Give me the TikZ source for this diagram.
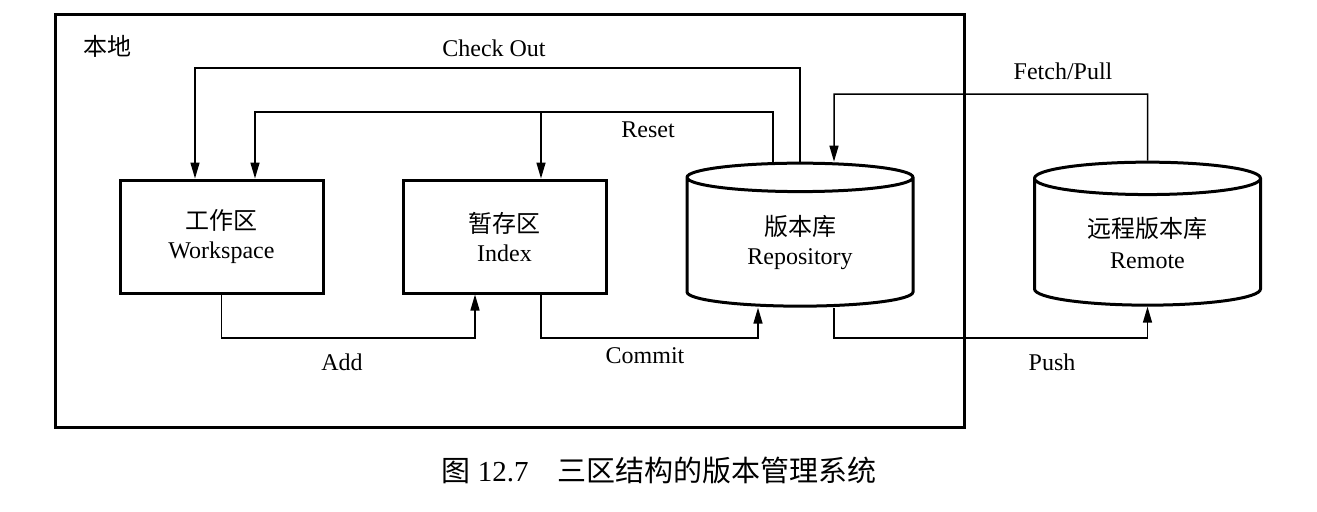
\documentclass[tikz,border=0pt]{standalone}
\usepackage{fontspec}
\setmainfont{Liberation Serif}
\newfontfamily\cjk{Noto Sans CJK SC}
\usetikzlibrary{shapes.geometric,arrows.meta}

\begin{document}
\begin{tikzpicture}[x=0.5pt, y=-0.5pt]
  \useasboundingbox (0,0) rectangle (1317,511);  % Rahmen wie Vorlage.

  \tikzstyle{stage}=[rectangle, draw, line width=1.5pt, minimum width=101.5pt, minimum height=56.5pt, inner sep=0pt, align=center, font=\fontsize{12pt}{14.5pt}\selectfont]
  \tikzstyle{store}=[cylinder, shape border rotate=90, aspect=0.27, draw, line width=1.5pt, minimum width=113pt, minimum height=71.5pt, inner sep=0pt, align=center, font=\fontsize{12pt}{14.5pt}\selectfont]
  \tikzstyle{conn}=[line width=0.75pt, -{Triangle[length=8pt, width=4.5pt]}]
  \tikzstyle{opname}=[inner sep=1pt, font=\fontsize{12pt}{14pt}\selectfont]

  \draw[line width=1.5pt] (55,14) rectangle (964,427);
  \node[opname] (local) at (107,46) {\cjk 本地};

  \node[stage] (ws)   at (221.5, 236.5) {{\cjk 工作区}\\Workspace};
  \node[stage] (idx)  at (504.5, 236.5) {{\cjk 暂存区}\\Index};
  \node[store] (repo) at (800, 242.5)   {{\cjk 版本库}\\Repository};
  \node[store] (rem)  at (1147.5, 242.5) {{\cjk 远程版本库}\\[1pt]Remote};

  \coordinate (rstj) at (541, 112);

  \draw[conn] (repo.north) |- (195, 68) -- ([xshift=-13.25pt]ws.north);
  \draw[conn] ([xshift=-13.5pt]repo.north) |- (255, 112) -- ([xshift=16.75pt]ws.north);
  \draw[conn] (rstj) -- ([xshift=18.25pt]idx.north);
  \draw[conn] (rem.north) |- (834, 94) -- ([xshift=17pt]repo.north);
  \draw[conn] (ws.south) |- (475, 338) -- ([xshift=-14.75pt]idx.south);
  \draw[conn] ([xshift=18.25pt]idx.south) |- (758, 338) -- ([xshift=-21pt]repo.south);
  \draw[conn] ([xshift=17pt]repo.south) |- (rem.south |- 0,338) -- (rem.south);

  \node[opname] (co)   at (494, 48)   {Check Out};
  \node[opname] (rst)  at (648, 130)  {Reset};
  \node[opname] (fp)   at (1063, 71)  {Fetch/Pull};
  \node[opname] (add)  at (342, 362)  {Add};
  \node[opname] (cmt)  at (645, 356)  {Commit};
  \node[opname] (push) at (1052, 362) {Push};

  \node[font=\fontsize{14.5pt}{16pt}\selectfont] (cap) at (659, 470) {{\cjk 图} 12.7\quad{\cjk 三区结构的版本管理系统}};
\end{tikzpicture}
\end{document}
